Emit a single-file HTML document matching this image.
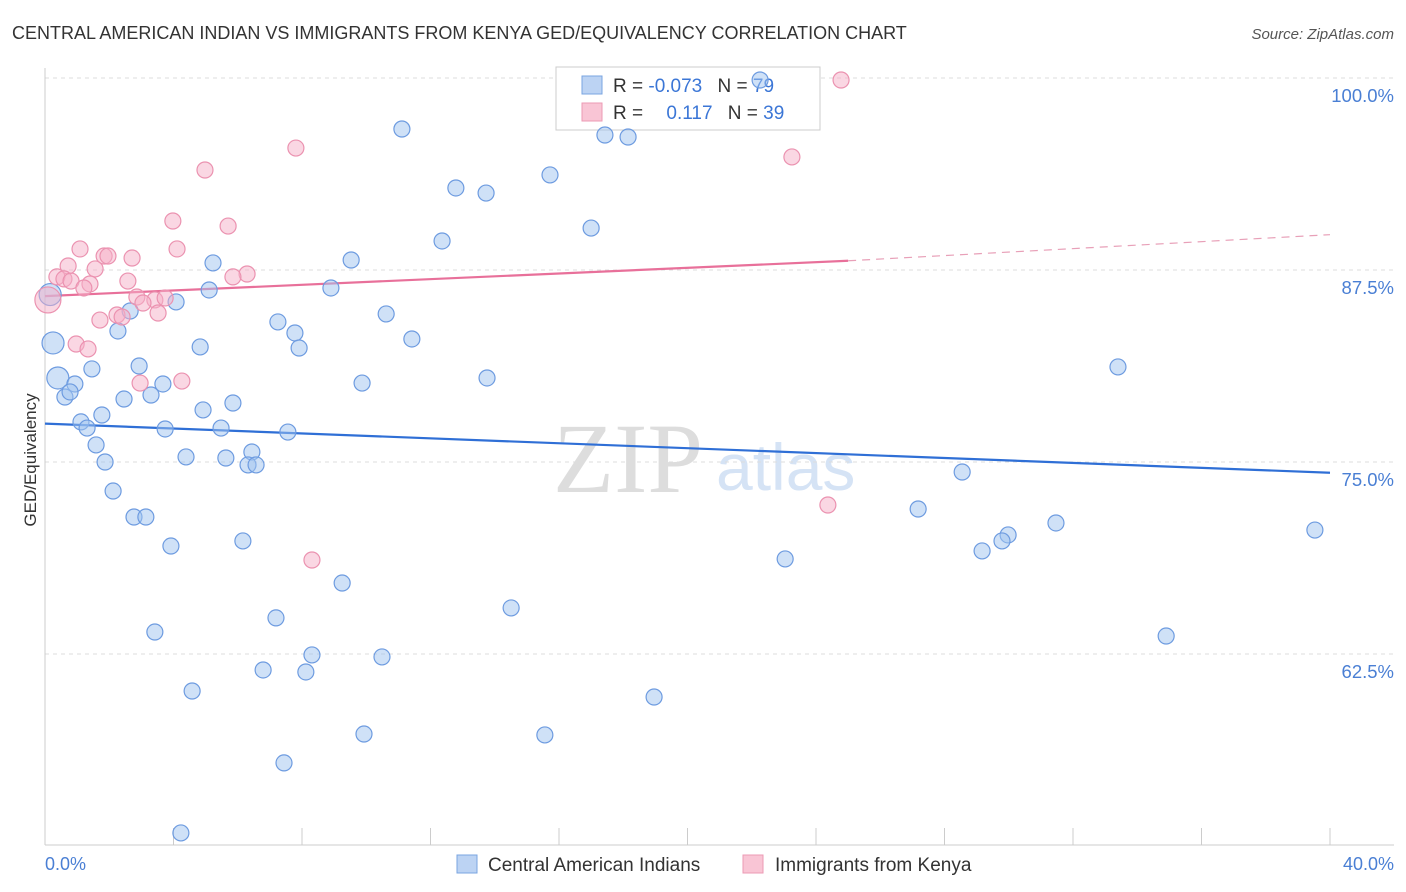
<!DOCTYPE html>
<html><head><meta charset="utf-8"><style>
body{margin:0;background:#fff;font-family:"Liberation Sans",sans-serif}
svg{display:block}
</style></head><body>
<svg id="chart" width="1406" height="892">
<text x="12" y="39" font-size="18" fill="#333">CENTRAL AMERICAN INDIAN VS IMMIGRANTS FROM KENYA GED/EQUIVALENCY CORRELATION CHART</text>
<text x="1394" y="39" font-size="15" fill="#555" font-style="italic" text-anchor="end">Source: ZipAtlas.com</text>
<text x="553" y="492" font-size="100" fill="#ddd" font-family="Liberation Serif,serif">ZIP</text>
<text x="716" y="490" font-size="66" fill="#d5e3f5">atlas</text>
<g id="grid"></g><g id="axes"></g>
<g>
<rect x="556" y="67" width="264" height="63" fill="#fff" stroke="#ccc"/>
<rect x="582" y="76" width="20" height="18" fill="#bcd3f3" stroke="#7aa4e0"/>
<rect x="582" y="103" width="20" height="18" fill="#f9c5d5" stroke="#ec9ab4"/>
<text x="613" y="92" font-size="19" fill="#333">R = <tspan fill="#3b76d6">-0.073</tspan>  <tspan dx="10">N = </tspan><tspan fill="#3b76d6">79</tspan></text>
<text x="613" y="119" font-size="19" fill="#333">R = <tspan fill="#3b76d6" dx="18">0.117</tspan>  <tspan dx="10">N = </tspan><tspan fill="#3b76d6">39</tspan></text>
</g>
<g id="trend"></g><g id="pts"></g>
<text x="36" y="460" font-size="17" fill="#333" text-anchor="middle" transform="rotate(-90 36 460)">GED/Equivalency</text>
<text x="45" y="870" font-size="18" fill="#4a7fd4">0.0%</text>
<text x="1394" y="870" font-size="18" fill="#4a7fd4" text-anchor="end">40.0%</text>
<g>
<rect x="457" y="855" width="20" height="18" fill="#bcd3f3" stroke="#7aa4e0"/>
<text x="488" y="871" font-size="19" fill="#333">Central American Indians</text>
<rect x="743" y="855" width="20" height="18" fill="#f9c5d5" stroke="#ec9ab4"/>
<text x="775" y="871" font-size="19" fill="#333">Immigrants from Kenya</text>
</g>
</svg>
<script>
const yTicks=[100,87.5,75,62.5];
const yTickLabels=["100.0%","87.5%","75.0%","62.5%"];
const xTicks=[0,4,8,12,16,20,24,28,32,36,40];
const blueX=[22.26,11.11,17.43,18.15,12.79,13.73,15.72,12.36,17.0,9.53,5.23,8.90,5.11,4.08,2.65,2.27,7.25,7.78,10.62,11.42,7.91,4.83,0.25,2.93,1.46,0.40,0.93,3.67,9.87,13.76,33.4,0.62,0.78,2.46,3.30,5.85,1.77,4.92,1.12,1.31,3.74,5.48,7.56,1.59,4.39,5.63,6.44,6.32,6.57,1.87,28.55,2.12,2.77,3.14,27.18,31.47,39.53,29.98,29.79,29.17,3.92,6.16,23.04,9.25,14.51,7.19,3.42,34.9,8.31,10.49,6.79,8.12,4.58,18.96,9.93,15.56,7.44,4.23,0.16];
const blueY=[99.87,96.68,96.29,96.16,92.84,92.51,93.69,89.39,90.23,88.15,87.96,86.33,86.20,85.42,84.83,83.53,84.12,83.40,84.64,83.01,82.42,82.49,82.75,81.25,81.06,80.47,80.08,80.08,80.14,80.47,81.19,79.23,79.56,79.10,79.36,78.84,78.06,78.39,77.61,77.21,77.15,77.21,76.95,76.11,75.33,75.26,75.65,74.81,74.81,75.00,74.35,73.11,71.42,71.42,71.94,71.03,70.57,70.25,69.86,69.21,69.53,69.86,68.69,67.12,65.50,64.85,63.93,63.67,62.44,62.31,61.46,61.33,60.09,59.70,57.29,57.23,55.41,50.85,85.9];
const blueBig=[22,25,78];
const pinkX=[24.78,7.81,23.25,4.98,3.98,5.70,1.09,4.11,1.84,1.96,2.71,0.72,1.56,6.29,5.85,0.37,0.59,0.81,2.58,1.40,1.21,0.09,2.86,3.42,3.74,3.05,3.52,2.24,2.40,1.71,0.97,1.34,2.96,4.26,24.37,8.31];
const pinkY=[99.87,95.44,94.86,94.01,90.69,90.36,88.87,88.87,88.41,88.41,88.28,87.76,87.57,87.24,87.05,87.05,86.92,86.78,86.78,86.59,86.33,85.55,85.74,85.55,85.68,85.35,84.70,84.57,84.44,84.24,82.68,82.36,80.14,80.27,72.20,68.62];
const pinkBig=[21];
const blueTrend=[77.5,74.3];
const pinkTrend=[85.8,88.1,89.8];
const X=v=>45+v/40*1285, Y=v=>78+(100-v)*15.36;
const NS="http://www.w3.org/2000/svg";
function mk(p,t,a){const e=document.createElementNS(NS,t);for(const k in a)e.setAttribute(k,a[k]);document.getElementById(p).appendChild(e);return e;}
yTicks.forEach((t,i)=>{
 const g=mk('grid','line',{x1:45,x2:1394,y1:Y(t),y2:Y(t),stroke:'#ddd','stroke-dasharray':'4,4'});
 
 
 const l=mk('grid','text',{x:1394,y:Y(t)+24,'font-size':18.5,fill:'#4a7fd4','text-anchor':'end'});
 l.textContent=yTickLabels[i];
 
 
});
const ax=mk('axes','line',{x1:45,x2:1394,y1:845,y2:845,stroke:'#ccc'});


const ay=mk('axes','line',{x1:45,x2:45,y1:68,y2:845,stroke:'#ccc'});


xTicks.forEach(t=>{const e=mk('axes','line',{x1:X(t),x2:X(t),y1:828,y2:845,stroke:'#ccc'});
 
 });
const bt=mk('trend','line',{x1:X(0),y1:Y(blueTrend[0]),x2:X(40),y2:Y(blueTrend[1]),stroke:'#2f6fd6','stroke-width':2.2});


const pt=mk('trend','line',{x1:X(0),y1:Y(pinkTrend[0]),x2:X(25),y2:Y(pinkTrend[1]),stroke:'#e8709a','stroke-width':2.2});


const pd=mk('trend','line',{x1:X(25),y1:Y(pinkTrend[1]),x2:X(40),y2:Y(pinkTrend[2]),stroke:'#e8a0b8','stroke-width':1.2,'stroke-dasharray':'8,6'});


blueX.forEach((v,i)=>{const c=mk('pts','circle',{cx:X(v),cy:Y(blueY[i]),r:blueBig.includes(i)?11:8,fill:'rgba(160,195,240,0.5)',stroke:'#6d9be0','stroke-width':1.2});
 
 });
pinkX.forEach((v,i)=>{const c=mk('pts','circle',{cx:X(v),cy:Y(pinkY[i]),r:pinkBig.includes(i)?13:8,fill:'rgba(245,175,200,0.5)',stroke:'#eb92b0','stroke-width':1.2});
 
 });
</script>
</body></html>
